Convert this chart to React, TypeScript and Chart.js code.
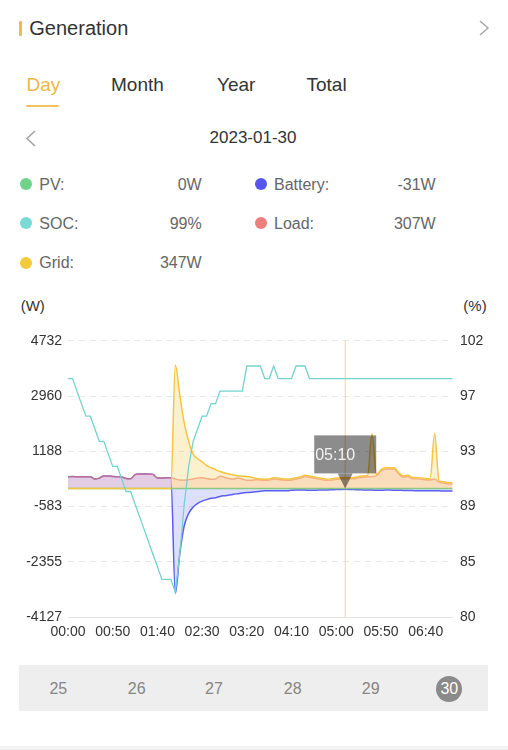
import React, { useEffect, useRef } from "react";
import { Chart, registerables } from "chart.js";

Chart.register(...registerables);

const FONT = "'Liberation Sans', Arial, sans-serif";

const TIMES = [
  "00:00","00:05","00:10","00:15","00:20","00:25","00:30","00:35","00:40","00:45","00:50","00:55",
  "01:00","01:05","01:10","01:15","01:20","01:25","01:30","01:35","01:40","01:45","01:50","01:55",
  "02:00","02:05","02:10","02:15","02:20","02:25","02:30","02:35","02:40","02:45","02:50","02:55",
  "03:00","03:05","03:10","03:15","03:20","03:25","03:30","03:35","03:40","03:45","03:50","03:55",
  "04:00","04:05","04:10","04:15","04:20","04:25","04:30","04:35","04:40","04:45","04:50","04:55",
  "05:00","05:05","05:10","05:15","05:20","05:25","05:30","05:35","05:40","05:45","05:50","05:55",
  "06:00","06:05","06:10","06:15","06:20","06:25","06:30","06:35","06:40","06:45","06:50","06:55",
  "07:00","07:05","07:10",
];

const X_TICK_LABELS = ["00:00","00:50","01:40","02:30","03:20","04:10","05:00","05:50","06:40"];
const W_TICK_LABELS = ["-4127","-2355","-583","1188","2960","4732"];
const SOC_TICK_LABELS = ["80","85","89","93","97","102"];
const W_MIN = -4127;
const W_MAX = 4732;
const SOC_MIN = 80;
const SOC_MAX = 102;
const ACTIVE_INDEX = 62;

const PV = [
  0,0,0,0,0,0,0,0,0,0, 0,0,0,0,0,0,0,0,0,0,
  0,0,0,0,0,0,0,0,0,0, 0,0,0,0,0,0,0,0,0,0,
  0,0,0,0,0,0,0,0,0,0, 0,0,0,0,0,0,0,0,0,0,
  0,0,0,0,0,0,0,0,0,0, 0,0,0,0,0,0,0,0,0,0,
  0,0,0,0,0,0,0,
];

const SOC = [
  99,99,98,97,96,96,95,94,94,93,
  92,92,91,90,90,89,88,87,86,85,
  84,83,83,83,82,85,89,92,94,95,
  96,96,97,97,98,98,98,98,98,98,
  100,100,100,100,99,99,100,99,99,99,
  99,100,100,100,99,99,99,99,99,99,
  99,99,99,99,99,99,99,99,99,99,
  99,99,99,99,99,99,99,99,99,99,
  99,99,99,99,99,99,99,
];

const LOAD = [
  376,378,376,375,377,370,300,330,398,400,
  385,372,365,320,312,440,462,465,462,450,
  335,335,338,340,300,270,270,280,300,330,
  340,320,290,300,390,360,320,300,330,300,
  260,260,280,270,260,270,300,290,270,260,
  270,300,330,380,360,330,305,280,255,270,
  290,300,307,305,310,340,360,370,380,410,
  560,620,625,620,460,360,380,310,305,295,
  280,272,300,200,170,145,140,
];

const GRID = [
  0,0,0,0,0,0,0,0,0,0,
  0,0,0,0,0,0,0,0,0,0,
  0,0,0,0,3960,3000,2100,1500,1100,950,
  850,730,660,600,540,500,460,430,405,390,
  380,360,320,300,295,300,340,330,310,300,
  310,340,370,420,400,370,345,320,295,310,
  330,340,347,345,350,380,400,410,1750,450,
  600,660,665,660,500,400,420,350,345,335,
  320,312,1760,240,210,185,180,
];

const BATTERY = [
  376,378,376,375,377,370,300,330,398,400,
  385,372,365,320,312,440,462,465,462,450,
  335,335,338,340,-3370,-2100,-1200,-800,-600,-480,
  -410,-360,-320,-300,-260,-235,-215,-190,-170,-150,
  -135,-125,-110,-90,-80,-80,-75,-75,-80,-75,
  -60,-50,-50,-55,-60,-60,-55,-50,-50,-45,
  -40,-35,-31,-35,-40,-45,-50,-55,-55,-60,
  -60,-55,-55,-60,-60,-65,-70,-70,-75,-75,
  -80,-80,-80,-80,-85,-85,-85,
];

const LEGEND = [
  { name: "PV:", value: "0W", color: "#6fd38a", col: 0, row: 0 },
  { name: "Battery:", value: "-31W", color: "#5656ee", col: 1, row: 0 },
  { name: "SOC:", value: "99%", color: "#79d9d3", col: 0, row: 1 },
  { name: "Load:", value: "307W", color: "#ee7f7f", col: 1, row: 1 },
  { name: "Grid:", value: "347W", color: "#f5c93c", col: 0, row: 2 },
];

const TABS = [
  { name: "Day", x: 26.5, active: true },
  { name: "Month", x: 111, active: false },
  { name: "Year", x: 217, active: false },
  { name: "Total", x: 306.5, active: false },
];

const DAYS = ["25", "26", "27", "28", "29", "30"];
const SELECTED_DAY = "30";

const markerPlugin = {
  id: "markerPlugin",
  beforeDatasetsDraw(chart: any) {
    const { ctx, chartArea, scales } = chart;
    const x = scales.x.getPixelForValue(ACTIVE_INDEX);
    ctx.save();
    ctx.strokeStyle = "#f3d0aa";
    ctx.lineWidth = 1;
    ctx.beginPath();
    ctx.moveTo(x, chartArea.top);
    ctx.lineTo(x, chartArea.bottom);
    ctx.stroke();
    ctx.restore();
  },
  afterDatasetsDraw(chart: any) {
    const { ctx, scales } = chart;
    const x = scales.x.getPixelForValue(ACTIVE_INDEX);
    const y = scales.yW.getPixelForValue(PV[ACTIVE_INDEX]);
    const w = 62, h = 38, caretH = 15, caretW = 7.5;
    const bx = x - w / 2;
    const by = y - caretH - h;
    ctx.save();
    ctx.fillStyle = "rgba(0,0,0,0.45)";
    ctx.fillRect(bx, by, w, h);
    ctx.beginPath();
    ctx.moveTo(x - caretW, by + h);
    ctx.lineTo(x + caretW, by + h);
    ctx.lineTo(x, y);
    ctx.closePath();
    ctx.fill();
    ctx.fillStyle = "#f2f2f2";
    ctx.font = "16px " + FONT;
    ctx.textAlign = "left";
    ctx.textBaseline = "middle";
    ctx.fillText(TIMES[ACTIVE_INDEX], bx + 1, by + h / 2 + 1);
    ctx.restore();
  },
};

const lineCommon = {
  pointRadius: 0,
  pointHoverRadius: 0,
  borderWidth: 1.5,
  cubicInterpolationMode: "monotone" as const,
};

function Text(props: {
  x: number; y: number; size: number; color: string; children: any;
  align?: "left" | "right" | "center"; weight?: number;
}) {
  const { x, y, size, color, children, align = "left", weight = 400 } = props;
  const lh = size * 1.2;
  const style: any = {
    position: "absolute",
    top: y - lh / 2,
    lineHeight: lh + "px",
    fontSize: size,
    color,
    whiteSpace: "nowrap",
    fontWeight: weight,
  };
  if (align === "left") style.left = x;
  else if (align === "right") { style.right = 508 - x; style.textAlign = "right"; }
  else { style.left = x - 100; style.width = 200; style.textAlign = "center"; }
  return <div style={style}>{children}</div>;
}

export default function App() {
  const ref = useRef<HTMLCanvasElement>(null);

  useEffect(() => {
    const chart = new Chart(ref.current as HTMLCanvasElement, {
      type: "line",
      data: {
        labels: TIMES,
        datasets: [
          {
            label: "Battery", data: BATTERY, yAxisID: "yW", order: 5,
            borderColor: "#5a5ef0", backgroundColor: "rgba(90,94,240,0.2)", fill: "origin",
            ...lineCommon,
          },
          {
            label: "Load", data: LOAD, yAxisID: "yW", order: 4,
            borderColor: "rgba(238,118,100,0.6)", backgroundColor: "rgba(238,128,128,0.2)", fill: "origin",
            ...lineCommon,
          },
          {
            label: "PV", data: PV, yAxisID: "yW", order: 3,
            borderColor: "#7cc98a", backgroundColor: "rgba(111,211,138,0.2)", fill: "origin",
            ...lineCommon,
          },
          {
            label: "Grid", data: GRID, yAxisID: "yW", order: 2,
            borderColor: "#f5c540", backgroundColor: "rgba(245,199,62,0.25)", fill: "origin",
            ...lineCommon,
          },
          {
            label: "SOC", data: SOC, yAxisID: "yS", order: 1,
            borderColor: "#74d4cd", fill: false,
            pointRadius: 0, pointHoverRadius: 0, borderWidth: 1.3, tension: 0,
          },
        ],
      },
      options: {
        animation: false,
        responsive: false,
        maintainAspectRatio: false,
        events: [],
        layout: { padding: { top: 14, left: 0, right: 0, bottom: 0 } },
        plugins: {
          legend: { display: false },
          tooltip: { enabled: false },
        },
        scales: {
          x: {
            type: "category",
            offset: false,
            grid: { display: false, drawTicks: false },
            border: { display: true, color: "#e4e4e4", width: 1 },
            afterFit: (s: any) => { s.height = 38; },
            ticks: {
              autoSkip: false,
              maxRotation: 0,
              minRotation: 0,
              padding: 7,
              color: "#333",
              font: { family: FONT, size: 14 },
              callback: (_v: any, i: number) => (X_TICK_LABELS.includes(TIMES[i]) ? TIMES[i] : ""),
            },
          },
          yW: {
            type: "linear",
            position: "left",
            min: W_MIN,
            max: W_MAX,
            afterFit: (s: any) => { s.width = 68; },
            grid: { color: "#e6e6e6", drawTicks: false, lineWidth: 1 },
            border: { display: false, dash: [6, 5] },
            ticks: {
              count: 6,
              padding: 6,
              color: "#333",
              font: { family: FONT, size: 14 },
              callback: (_v: any, i: number) => W_TICK_LABELS[i],
            },
          },
          yS: {
            type: "linear",
            position: "right",
            min: SOC_MIN,
            max: SOC_MAX,
            afterFit: (s: any) => { s.width = 55.5; },
            grid: { display: false, drawTicks: false },
            border: { display: false },
            ticks: {
              count: 6,
              padding: 7.5,
              color: "#333",
              font: { family: FONT, size: 14 },
              callback: (_v: any, i: number) => SOC_TICK_LABELS[i],
            },
          },
        },
      },
      plugins: [markerPlugin],
    } as any);
    return () => chart.destroy();
  }, []);

  const rowY = [184.2, 223.3, 262.8];
  const colDot = [26, 260.7];
  const colLabel = [39.3, 274];
  const colValue = [201.7, 435.7];
  const dayX = [58.3, 136.7, 214, 292.7, 370.7, 449.3];

  return (
    <div style={{ position: "absolute", left: 0, top: 0, width: 508, height: 750, background: "#fff", fontFamily: FONT, overflow: "hidden" }}>
      {/* header */}
      <div style={{ position: "absolute", left: 19.3, top: 20.7, width: 2.5, height: 15.3, background: "#f3b94a", borderRadius: 1 }} />
      <Text x={29.3} y={28} size={20} color="#333">Generation</Text>
      <svg style={{ position: "absolute", left: 0, top: 0 }} width={508} height={160}>
        <polyline points="480,21 488,28 480,35" fill="none" stroke="#a8a8a8" strokeWidth={1.5} />
        <polyline points="35,131 27,138.5 35,146" fill="none" stroke="#a0a0a0" strokeWidth={1.5} />
      </svg>

      {TABS.map((t) => (
        <Text key={t.name} x={t.x} y={85.5} size={19} color={t.active ? "#f0b845" : "#333"}>{t.name}</Text>
      ))}
      <div style={{ position: "absolute", left: 26, top: 105, width: 32.5, height: 2, background: "#f3c35e", borderRadius: 1 }} />

      <Text x={253} y={138} size={17} color="#333" align="center">2023-01-30</Text>

      {/* legend */}
      {LEGEND.map((l) => (
        <React.Fragment key={l.name}>
          <div style={{ position: "absolute", left: colDot[l.col] - 6, top: rowY[l.row] - 6, width: 12, height: 12, borderRadius: 6, background: l.color }} />
          <Text x={colLabel[l.col]} y={rowY[l.row]} size={16} color="#666">{l.name}</Text>
          <Text x={colValue[l.col]} y={rowY[l.row]} size={16} color="#666" align="right">{l.value}</Text>
        </React.Fragment>
      ))}

      <Text x={20.7} y={305.8} size={15} color="#333">(W)</Text>
      <Text x={463.3} y={305.8} size={15} color="#333">(%)</Text>

      <canvas ref={ref} width={508} height={330} style={{ position: "absolute", left: 0, top: 325, width: 508, height: 330 }} />

      {/* day strip */}
      <div style={{ position: "absolute", left: 19.3, top: 665, width: 469, height: 45.7, background: "#eeeeee" }} />
      {DAYS.map((d, i) => (
        <React.Fragment key={d}>
          {d === SELECTED_DAY && (
            <div style={{ position: "absolute", left: dayX[i] - 13, top: 689 - 13, width: 26, height: 26, borderRadius: 13, background: "#8a8a8a" }} />
          )}
          <Text x={dayX[i]} y={689} size={16} color={d === SELECTED_DAY ? "#fff" : "#858585"} align="center">{d}</Text>
        </React.Fragment>
      ))}

      <div style={{ position: "absolute", left: 0, top: 746, width: 508, height: 4, background: "#f3f3f3" }} />
    </div>
  );
}
